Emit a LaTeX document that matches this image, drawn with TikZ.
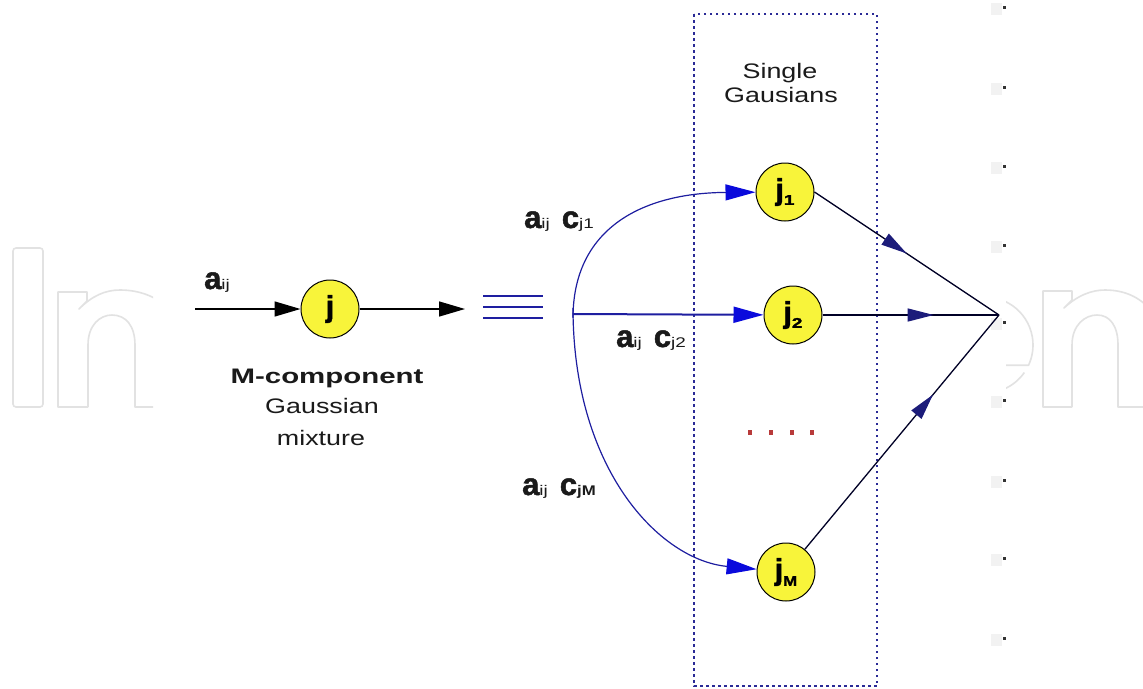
\documentclass[tikz,border=0pt]{standalone}
\usepackage{graphicx}
\usepackage{fontspec}
\setmainfont{Liberation Sans}
\newfontfamily\heavyfont[FakeBold=1.6]{Liberation Sans Bold}
\usetikzlibrary{arrows.meta,decorations.markings}
\definecolor{nodeyellow}{HTML}{F8F43A}
\definecolor{lineblue}{HTML}{1E1EA0}
\definecolor{tipblue}{HTML}{0A0ADC}
\definecolor{navy}{HTML}{1C1C7A}
\definecolor{boxblue}{HTML}{2A2A96}
\definecolor{wm}{HTML}{E2E2E2}
\definecolor{dotred}{HTML}{B83A3A}
\definecolor{txt}{HTML}{1A1A1A}
\newcommand\bigbf{\heavyfont\fontsize{31}{31}\selectfont}
\newcommand\jbf{\heavyfont\fontsize{30}{30}\selectfont}
\newcommand\subsm[1]{\scalebox{1.35}[1]{\fontsize{14}{14}\selectfont #1}}
\newcommand\subbf[1]{\scalebox{1.2}[1]{\fontsize{14}{14}\bfseries\selectfont #1}}
\newcommand\pix[1]{\scalebox{1.28}[1]{\fontsize{21}{21}\selectfont #1}}
\newcommand\pixb[1]{\scalebox{1.4}[1]{\fontsize{21}{21}\bfseries\selectfont #1}}
\begin{document}
\begin{tikzpicture}[x=1pt,y=-1pt,
  gnode/.style={circle, draw=black, fill=nodeyellow, minimum size=58pt, inner sep=0pt, line width=1pt},
  lbl/.style={anchor=base west, inner sep=0pt, text=txt},
  ptxt/.style={anchor=base, inner sep=0pt, text=txt},
  blk/.style={draw=black, line width=1.5pt, -{Triangle[length=26pt,width=15pt]}},
  bluecurve/.style={draw=lineblue, line width=1.2pt, -{Triangle[length=30pt,width=16pt,color=tipblue]}},
  blueline/.style={draw=lineblue, line width=2pt, -{Triangle[length=30pt,width=16pt,color=tipblue]}},
  rightline/.style={draw=black!85!blue, line width=1.3pt},
  midarrow/.style={postaction={decorate}, decoration={markings, mark=at position #1 with {\arrow{Triangle[length=26pt,width=13pt,color=navy]}}}},
  wmline/.style={draw=wm, line width=1.6pt, line join=round}
]
\useasboundingbox (0,0) rectangle (1143,688);
\fill[white] (0,0) rectangle (1143,688);

% watermark (partially visible)
\draw[wmline, rounded corners=3pt] (13,248) rectangle (43,407);
\begin{scope}
  \clip (50,250) rectangle (153,420);
  \draw[wmline] (88,407) -- (58,407) -- (58,292) -- (87,292) -- (87,301) -- (79,309)
     .. controls (92,296) and (105,290) .. (120,290) .. controls (140,290) and (155,297) .. (165,305);
  \draw[wmline] (88,407) -- (88,345) .. controls (88,325) and (100,315) .. (112,315)
     .. controls (126,315) and (135,326) .. (135,345) -- (135,407) -- (165,407);
\end{scope}
\begin{scope}
  \clip (1006,250) rectangle (1143,420);
  \draw[wmline] (985,345) ++(-100:48) arc[start angle=-100, end angle=25, radius=48] -- +(-30,0);
  \draw[wmline] (985,345) ++(35:48) arc[start angle=35, end angle=100, radius=48];
  \draw[wmline] (1072,407) -- (1043,407) -- (1043,291) -- (1072,291) -- (1072,300) -- (1064,308)
     .. controls (1078,295) and (1092,290) .. (1105,290) .. controls (1128,290) and (1143,300) .. (1152,312);
  \draw[wmline] (1072,407) -- (1072,345) .. controls (1072,325) and (1085,315) .. (1097,315)
     .. controls (1110,315) and (1118,326) .. (1118,345) -- (1118,407) -- (1150,407);
\end{scope}

% faint marks column
\foreach \yy in {7,87,166,245,322,400,480,558,638}{
  \fill[gray!10] (991,\yy-4) rectangle (1002,\yy+8);
  \fill[black!80] (1003,\yy-1) rectangle (1006,\yy+2);
}

% dotted box
\draw[boxblue, line width=2pt, dash pattern=on 2.5pt off 3.5pt] (694,14) rectangle (877,686);
\node[ptxt] (sg1) at (780,78) {\pix{Single}};
\node[ptxt] (sg2) at (781,102) {\pix{Gausians}};

% nodes
\node[gnode] (j) at (330,309) {\jbf j};
\node[gnode] (j1) at (785,192) {\jbf j\raisebox{-5pt}{\subsm{1}}};
\node[gnode] (j2) at (793,315) {\jbf j\raisebox{-5pt}{\subsm{2}}};
\node[gnode] (jM) at (786,572) {\jbf j\raisebox{-6pt}{\subbf{M}}};

% left part
\coordinate (in) at (195,309);
\coordinate (eqL) at (465,309);
\draw[blk] (in) -- (j);
\draw[blk] (j) -- (eqL);
\coordinate (eq) at (483,307);
\foreach \dy in {-11,0,11}{
  \draw[lineblue, line width=1.8pt] (eq) ++(0,\dy) -- ++(60,0);
}

% branches
\coordinate (junc) at (573,314);
\coordinate (juncU) at (573,318);
\coordinate (juncD) at (573,308);
\draw[bluecurve] (juncU) .. controls (573,230) and (640,193) .. (j1);
\draw[bluecurve] (juncD) .. controls (573,470) and (660,560) .. (jM);
\draw[blueline] (junc) -- (j2);

% right part
\coordinate (apex) at (999,315);
\draw[rightline, midarrow=0.5] (j1.east) -- (apex);
\draw[rightline, midarrow=0.63] (j2) -- (apex);
\draw[rightline, midarrow=0.66] (jM) -- (apex);

% red dots
\foreach \xx in {750,771,792,812}{
  \fill[dotred] (\xx-2,430) rectangle (\xx+2,435);
}

% labels
\node[lbl] (lin) at (204,289) {{\bigbf a}\subsm{ij}};
\node[lbl] (l1) at (524,228) {{\bigbf a}\subsm{ij}\hspace{12pt}{\bigbf c}\subsm{j1}};
\node[lbl] (l2) at (616,347) {{\bigbf a}\subsm{ij}\hspace{12pt}{\bigbf c}\subsm{j2}};
\node[lbl] (l3) at (522,495) {{\bigbf a}\subsm{ij}\hspace{12pt}{\bigbf c}\subbf{jM}};

\node[ptxt] (mc) at (327,383) {\pixb{M-component}};
\node[ptxt] (ga) at (322,413) {\pix{Gaussian}};
\node[ptxt] (mx) at (321,445) {\pix{mixture}};
\end{tikzpicture}
\end{document}
